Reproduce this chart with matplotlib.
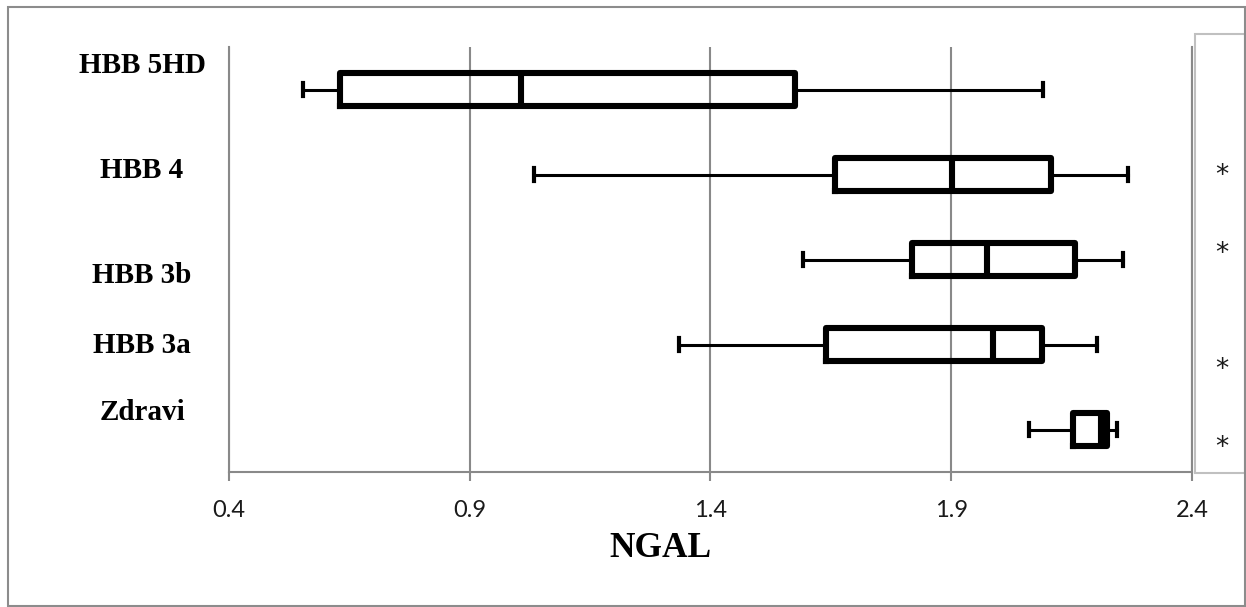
import matplotlib
matplotlib.use("Agg")
import matplotlib.pyplot as plt
from matplotlib.patches import Rectangle

# NGAL values per group (top to bottom)
groups = ["HBB 5HD", "HBB 4", "HBB 3b", "HBB 3a", "Zdravi"]
whis_lo = [0.554, 1.033, 1.592, 1.335, 2.062]
q1 = [0.631, 1.659, 1.818, 1.640, 2.152]
median = [1.007, 1.901, 1.974, 1.987, 2.211]
q3 = [1.576, 2.107, 2.158, 2.089, 2.224]
whis_hi = [2.091, 2.267, 2.257, 2.203, 2.244]

x_ticks = [0.4, 0.9, 1.4, 1.9, 2.4]

W, H = 1246, 607
fig = plt.figure(figsize=(W / 100, H / 100), dpi=100)


def fx(px):
    return px / W


def fy(py):
    return 1 - py / H


grid_gray = "#898989"

ax = fig.add_axes([fx(229), fy(472), fx(1192) - fx(229), fy(47) - fy(472)])

stats = []
for i in range(len(groups)):
    stats.append(dict(label=groups[i], whislo=whis_lo[i], q1=q1[i], med=median[i],
                      q3=q3[i], whishi=whis_hi[i], fliers=[]))

positions = list(range(len(groups)))[::-1]  # first group on top
ax.bxp(stats, positions=positions, widths=0.39, capwidths=0.15,
       orientation="horizontal", showfliers=False,
       boxprops=dict(color="black", linewidth=4.4, solid_joinstyle="round"),
       medianprops=dict(color="black", linewidth=4.4),
       whiskerprops=dict(color="black", linewidth=2.2),
       capprops=dict(color="black", linewidth=3.0))

ax.set_xlim(0.4, 2.4)
ax.set_ylim(-0.5, len(groups) - 0.5)
ax.set_yticks([])
ax.set_xticks(x_ticks)
ax.set_xticklabels([f"{t:.1f}" for t in x_ticks], fontsize=17, family="Lato",
                   color="#1a1a1a")
ax.tick_params(axis="x", length=6.5, width=1.5, color=grid_gray, pad=14)
ax.grid(axis="x", color=grid_gray, linewidth=1.5)
ax.set_axisbelow(True)
ax.spines["top"].set_visible(False)
for side in ["left", "right", "bottom"]:
    ax.spines[side].set_color(grid_gray)
    ax.spines[side].set_linewidth(1.5)

# group labels (free text boxes in the original)
label_base = [73, 178, 283, 353, 420]
for name, yb in zip(groups, label_base):
    fig.text(fx(142), fy(yb), name, ha="center", va="baseline",
             family="Liberation Serif", fontweight="bold", fontsize=21)

fig.text(fx(660.5), fy(557), "NGAL", ha="center", va="baseline",
         family="Liberation Serif", fontweight="bold", fontsize=25.5)

# significance box on the right
fig.patches.append(Rectangle((fx(1195), fy(473)), fx(1245) - fx(1195), fy(34) - fy(473),
                             transform=fig.transFigure, fill=False,
                             edgecolor="#c0c0c0", linewidth=1.5))
star_y = [168, 246, 362, 440]
for yy in star_y:
    fig.text(fx(1222), fy(yy + 15), "*", ha="center", va="baseline",
             family="DejaVu Sans", fontsize=19, color="#1a1a1a")

# outer chart border
fig.patches.append(Rectangle((fx(8), fy(606)), fx(1245) - fx(8), fy(7) - fy(606),
                             transform=fig.transFigure, fill=False,
                             edgecolor="#8c8c8c", linewidth=1.5))

fig.savefig("out.png", dpi=100)
